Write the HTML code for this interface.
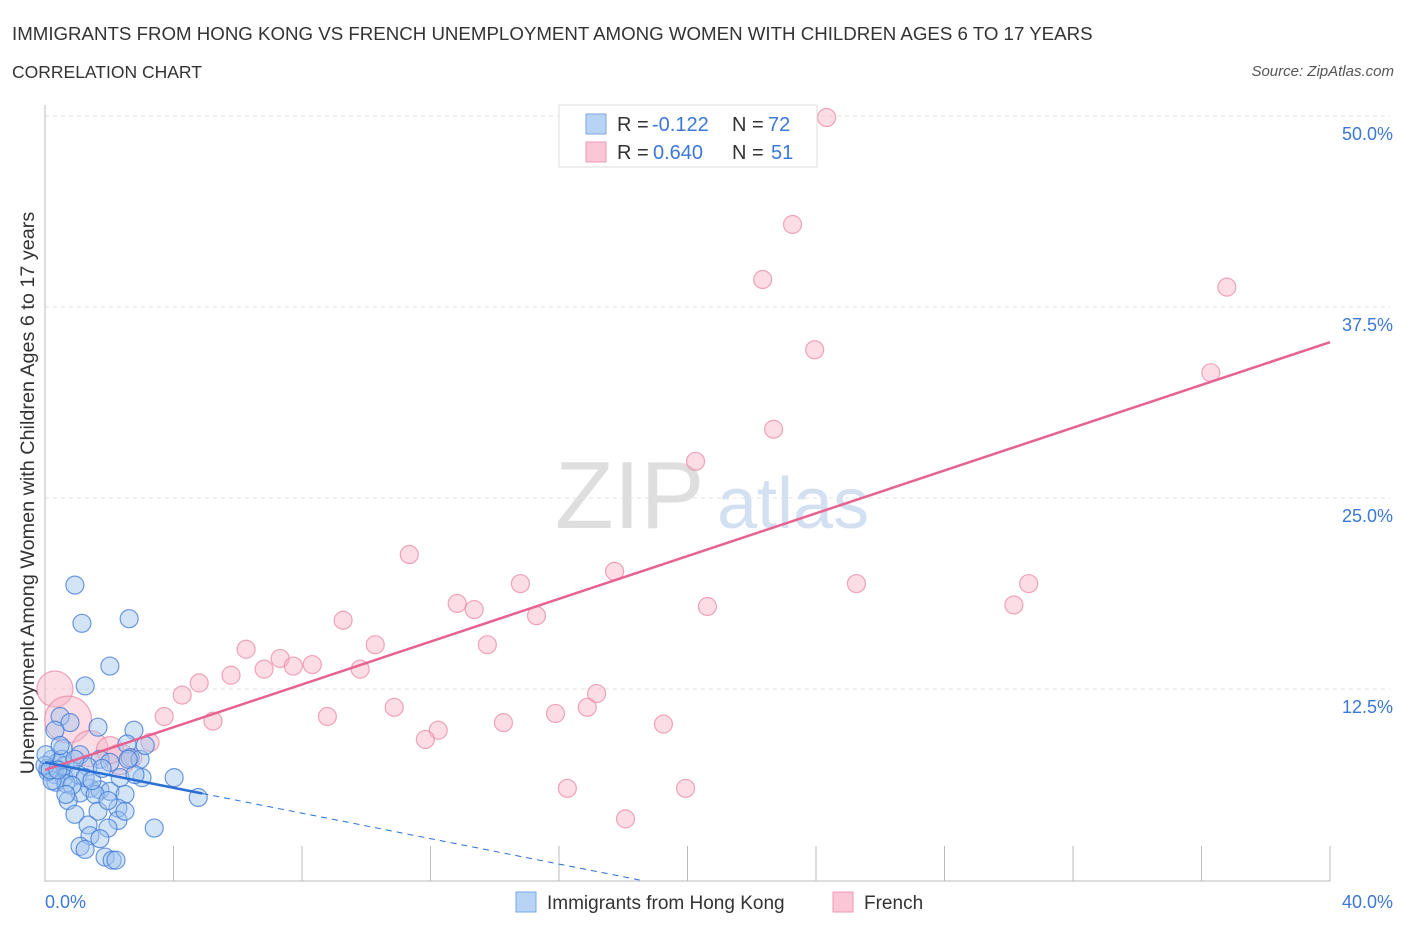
<!DOCTYPE html>
<html><head><meta charset="utf-8"><style>
body{margin:0;background:#fff;font-family:"Liberation Sans",sans-serif;}
svg text{font-family:"Liberation Sans",sans-serif;}
</style></head><body>
<svg id="chart" width="1406" height="930" xmlns="http://www.w3.org/2000/svg">
<text x="12" y="40" font-size="18.7" fill="#333">IMMIGRANTS FROM HONG KONG VS FRENCH UNEMPLOYMENT AMONG WOMEN WITH CHILDREN AGES 6 TO 17 YEARS</text>
<text x="12" y="78" font-size="17.5" fill="#333">CORRELATION CHART</text>
<text x="1394" y="76" font-size="15" fill="#555" text-anchor="end" font-style="italic">Source: ZipAtlas.com</text>
<text x="555" y="528" font-size="96" fill="#d6d6d6" font-family="Liberation Serif" opacity="0.8">ZIP</text>
<text x="717" y="528" font-size="72" fill="#c9d9f0" opacity="0.8">atlas</text>
<text transform="translate(34,493) rotate(-90)" font-size="19.8" fill="#333" text-anchor="middle">Unemployment Among Women with Children Ages 6 to 17 years</text>
<g id="grid"></g><g id="pts"></g><g id="lines"></g>
<g>
<rect x="559" y="105" width="258" height="62" fill="#fff" stroke="#ddd"/>
<rect x="586" y="114" width="20" height="20" fill="#b8d4f5" stroke="#7aa8e6"/>
<text x="617" y="131" font-size="20" fill="#333">R = </text>
<text x="652" y="131" font-size="20" fill="#3b78d8">-0.122</text>
<text x="732" y="131" font-size="20" fill="#333">N = </text>
<text x="768" y="131" font-size="20" fill="#3b78d8">72</text>
<rect x="586" y="142" width="20" height="20" fill="#fbc6d6" stroke="#ef9ab4"/>
<text x="617" y="159" font-size="20" fill="#333">R = </text>
<text x="653" y="159" font-size="20" fill="#3b78d8">0.640</text>
<text x="732" y="159" font-size="20" fill="#333">N = </text>
<text x="771" y="159" font-size="20" fill="#3b78d8">51</text>
</g>
<g>
<rect x="516" y="892" width="20" height="20" fill="#b8d4f5" stroke="#7aa8e6"/>
<text x="547" y="909" font-size="19" fill="#333">Immigrants from Hong Kong</text>
<rect x="833" y="892" width="20" height="20" fill="#fbc6d6" stroke="#ef9ab4"/>
<text x="864" y="909" font-size="19" fill="#333">French</text>
</g>
</svg>
<script>
const yTicks=[12.5,25,37.5,50];
const yTickLabels=["12.5%","25.0%","37.5%","50.0%"];
const xTickLabels=["0.0%","40.0%"];
const blueX=[0.93,1.15,2.62,2.02,1.25,0.47,0.78,1.65,2.77,0.31,2.55,0.56,1.09,1.71,0.22,0.40,0.62,0.09,0.78,1.34,0.31,0.59,1.03,2.02,2.65,2.96,4.02,3.02,4.77,0.34,0.65,1.40,1.71,2.02,1.09,2.49,0.72,1.56,2.27,0.93,1.65,2.27,1.34,1.96,3.40,1.40,1.71,1.09,1.25,1.87,2.09,2.21,0.09,0.22,0.53,0.93,1.25,2.34,2.80,0.0,0.16,0.40,0.84,1.46,1.78,0.03,0.47,2.59,3.12,1.96,2.49,0.65];
const blueY=[19.3,16.8,17.1,14.0,12.7,10.7,10.3,10.0,9.8,9.8,8.9,8.6,8.2,7.9,7.9,7.7,7.5,7.3,7.2,7.4,6.9,6.7,6.9,7.7,8.0,7.9,6.7,6.7,5.4,6.4,6.3,6.0,5.9,5.8,5.7,5.6,5.2,5.6,4.7,4.3,4.5,3.9,3.6,3.4,3.4,2.9,2.7,2.2,2.0,1.5,1.3,1.3,7.1,6.5,7.9,7.9,6.7,6.7,6.9,7.5,7.2,7.2,6.2,6.5,7.3,8.2,8.8,7.9,8.8,5.2,4.5,5.6];
const pinkX=[24.33,23.27,22.34,36.79,23.96,36.29,22.68,20.25,11.34,17.73,14.80,25.26,30.62,12.83,13.36,15.30,20.62,30.16,9.28,10.28,6.26,13.77,8.32,7.32,7.73,6.82,9.81,5.79,4.80,4.27,17.17,10.87,16.88,15.89,3.71,5.23,8.79,14.27,19.25,12.24,11.84,3.27,2.74,16.26,19.94,18.07,0.31,0.72,1.40,2.34,2.02];
const pinkY=[49.9,42.9,39.3,38.8,34.7,33.2,29.5,27.4,21.3,20.2,19.4,19.4,19.4,18.1,17.7,17.3,17.9,18.0,17.0,15.4,15.1,15.4,14.1,14.5,14.0,13.8,13.8,13.4,12.9,12.1,12.2,11.3,11.3,10.9,10.7,10.4,10.7,10.3,10.2,9.8,9.2,9.0,8.0,6.0,6.0,4.0,12.5,10.5,8.6,7.9,8.5];
const pinkSize=[1,1,1,1,1,1,1,1,1,1,1,1,1,1,1,1,1,1,1,1,1,1,1,1,1,1,1,1,1,1,1,1,1,1,1,1,1,1,1,1,1,1,1,1,1,1,2,2.6,2,1.7,1.5];
const blueTrend=[7.7,-0.416];
const pinkTrend=[7.2,0.7];
const NS="http://www.w3.org/2000/svg";
const X=v=>45+v*32.125, Y=v=>880-v*15.28;
function mk(tag,attrs,parent){const e=document.createElementNS(NS,tag);for(const k in attrs)e.setAttribute(k,attrs[k]);parent.appendChild(e);return e;}
const grid=document.getElementById('grid');
yTicks.forEach((t,i)=>{
 const l=mk('line',{x1:45,x2:1390,y1:Y(t),y2:Y(t),stroke:'#e2e2e2','stroke-dasharray':'4,4'},grid);
 
 
 const tx=mk('text',{x:1393,y:Y(t)+24,'font-size':18,fill:'#3b78d8','text-anchor':'end'},grid);
 tx.textContent=yTickLabels[i];
 
 
});
const ax=mk('line',{x1:45,x2:45,y1:105,y2:882,stroke:'#bbb'},grid);


const bx=mk('line',{x1:45,x2:1330,y1:881,y2:881,stroke:'#bbb'},grid);


for(let i=1;i<=10;i++){const t=mk('line',{x1:X(i*4),x2:X(i*4),y1:846,y2:881,stroke:'#bbb'},grid);
 
 }
[[0,'start',45],[40,'end',1393]].forEach((d,i)=>{const t=mk('text',{x:d[2],y:908,'font-size':18,fill:'#3b78d8','text-anchor':d[1]},grid);t.textContent=xTickLabels[i];
 
 });
const pts=document.getElementById('pts');
pinkX.forEach((x,i)=>{const c=mk('circle',{cx:X(x),cy:Y(pinkY[i]),r:9*pinkSize[i],fill:'rgba(248,180,200,0.45)',stroke:'rgba(232,130,160,0.7)','stroke-width':1.2},pts);
 
 });
blueX.forEach((x,i)=>{const c=mk('circle',{cx:X(x),cy:Y(blueY[i]),r:9,fill:'rgba(160,196,238,0.45)',stroke:'rgba(60,120,215,0.75)','stroke-width':1.2},pts);
 
 });
const lines=document.getElementById('lines');
const pl=mk('line',{x1:X(0),y1:Y(pinkTrend[0]),x2:X(40),y2:Y(pinkTrend[0]+pinkTrend[1]*40),stroke:'#e8628f','stroke-width':2.5},lines);


const bl=mk('line',{x1:X(0),y1:Y(blueTrend[0]),x2:X(4.9),y2:Y(blueTrend[0]+blueTrend[1]*4.9),stroke:'#2a6fd6','stroke-width':2.5},lines);


const x0=-blueTrend[0]/blueTrend[1];
const bd=mk('line',{x1:X(4.9),y1:Y(blueTrend[0]+blueTrend[1]*4.9),x2:X(x0),y2:Y(0),stroke:'#2a6fd6','stroke-width':1,'stroke-dasharray':'6,5'},lines);


</script>
</body></html>
